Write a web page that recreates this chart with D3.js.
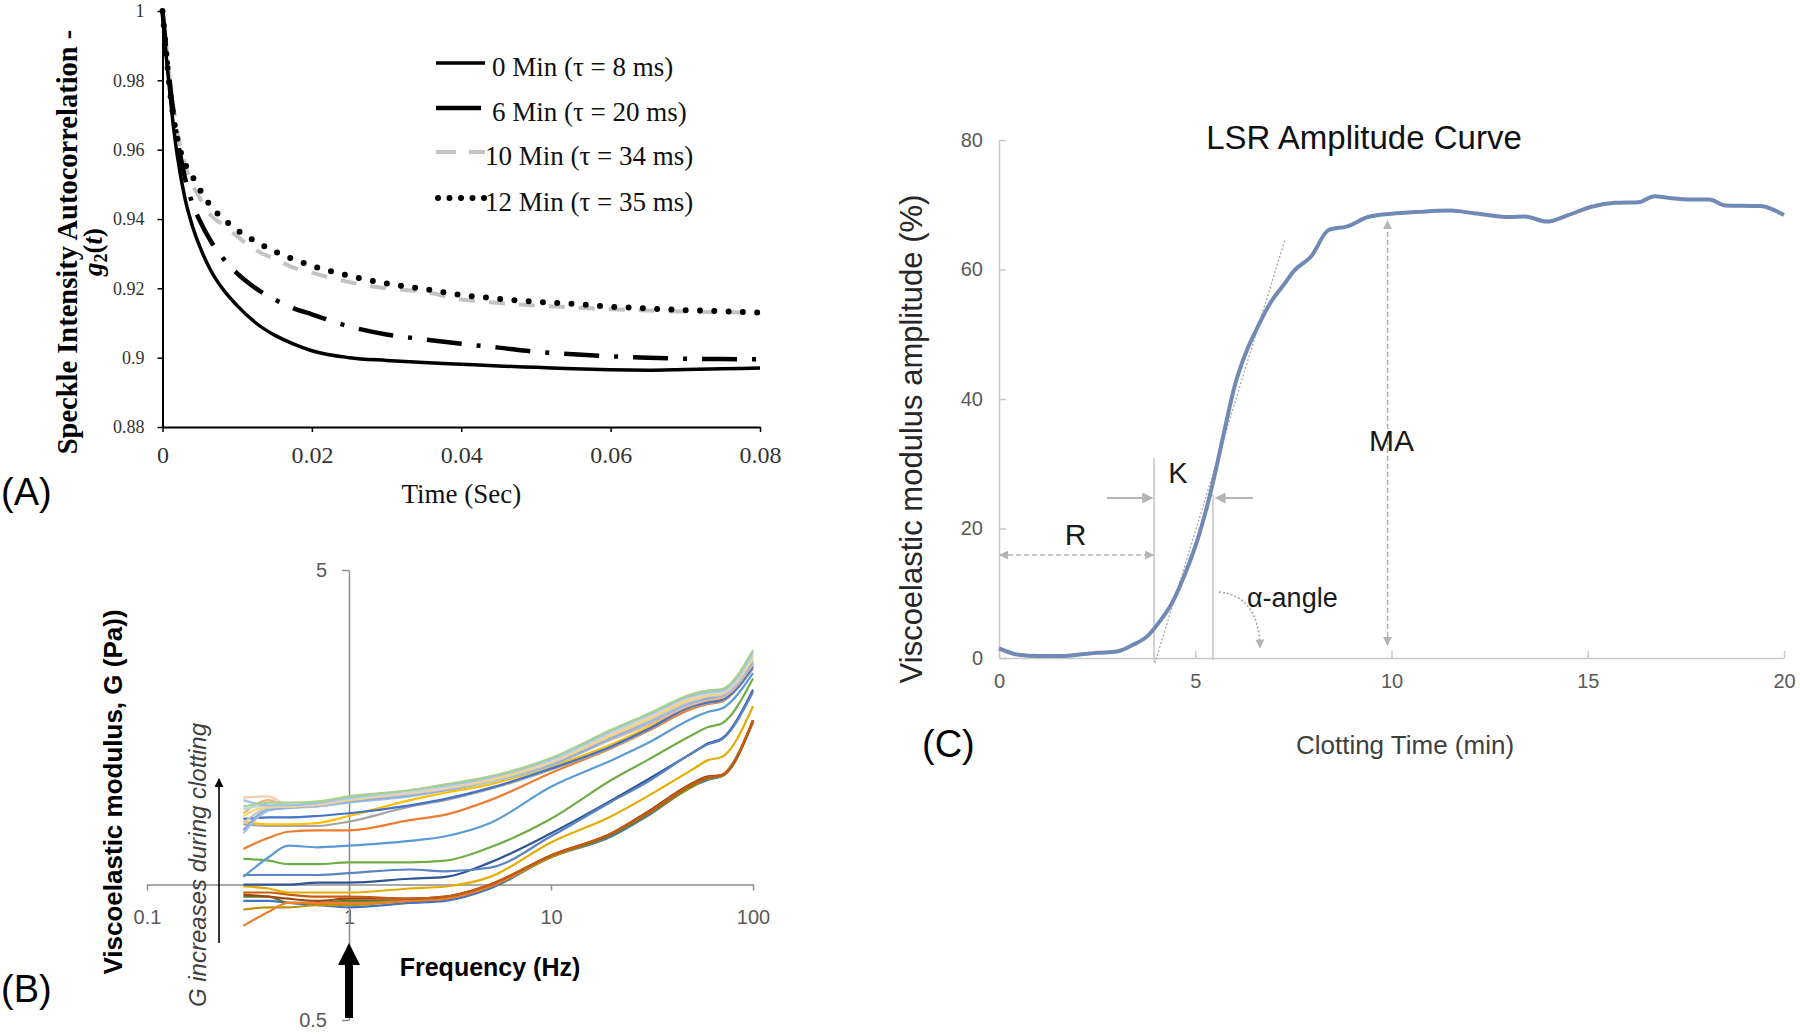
<!DOCTYPE html>
<html><head><meta charset="utf-8">
<script src="https://cdn.jsdelivr.net/npm/d3@7"></script>
<style>html,body{margin:0;padding:0;background:#fff}svg{display:block}</style>
</head><body>
<svg id="chart" width="1800" height="1034"></svg>
<script>
// ================= DATA =================
// Panel A : speckle intensity autocorrelation g2(t)
const timeA = [0, 0.0005, 0.001, 0.0015, 0.002, 0.003, 0.004, 0.005, 0.0065, 0.008, 0.01, 0.0125, 0.015, 0.0175, 0.02, 0.025, 0.03, 0.035, 0.04, 0.045, 0.05, 0.055, 0.06, 0.065, 0.07, 0.075, 0.08];
const g2_0min  = [1.0, 0.987, 0.976, 0.966, 0.958, 0.946, 0.938, 0.932, 0.925, 0.920, 0.915, 0.910, 0.9065, 0.904, 0.902, 0.900, 0.8992, 0.8986, 0.8981, 0.8976, 0.8972, 0.8968, 0.8965, 0.8964, 0.8966, 0.8968, 0.897];
const g2_6min  = [1.0, 0.989, 0.979, 0.970, 0.963, 0.952, 0.9445, 0.9395, 0.9335, 0.929, 0.9243, 0.920, 0.9168, 0.9143, 0.9125, 0.909, 0.9067, 0.9053, 0.904, 0.9029, 0.9017, 0.901, 0.9004, 0.900, 0.8997, 0.8996, 0.8995];
const g2_10min = [1.0, 0.990, 0.980, 0.972, 0.965, 0.956, 0.950, 0.946, 0.941, 0.9385, 0.935, 0.931, 0.9285, 0.926, 0.9245, 0.9218, 0.920, 0.919, 0.9168, 0.9158, 0.915, 0.9145, 0.914, 0.9136, 0.9133, 0.9131, 0.913];
const g2_12min = [1.0, 0.988, 0.977, 0.969, 0.963, 0.956, 0.9523, 0.9485, 0.9436, 0.9403, 0.9368, 0.9335, 0.9307, 0.9284, 0.9265, 0.9236, 0.9214, 0.9198, 0.9181, 0.917, 0.9161, 0.9155, 0.9147, 0.9142, 0.9137, 0.9134, 0.913];
const labelsA = ["0 Min (τ = 8 ms)", "6 Min (τ = 20 ms)", "10 Min (τ = 34 ms)", "12 Min (τ = 35 ms)"];
const xTicksA = [0, 0.02, 0.04, 0.06, 0.08];
const yTicksA = [0.88, 0.9, 0.92, 0.94, 0.96, 0.98, 1];

// Panel B : viscoelastic modulus G (Pa) vs frequency (Hz)
const freqB = [0.3, 0.4, 0.5, 0.7, 1, 2, 3, 5, 10, 20, 30, 50, 60, 70, 100];
const gBB1 = [0.96, 0.96, 0.95, 0.94, 0.94, 0.93, 0.94, 1.00, 1.16, 1.30, 1.44, 1.67, 1.73, 1.75, 2.32];
const gBB2 = [0.94, 0.94, 0.91, 0.91, 0.92, 0.92, 0.93, 0.99, 1.16, 1.29, 1.43, 1.66, 1.72, 1.75, 2.31];
const gBB3 = [0.88, 0.89, 0.89, 0.90, 0.90, 0.92, 0.93, 0.99, 1.15, 1.29, 1.43, 1.65, 1.72, 1.74, 2.30];
const gBB4 = [0.81, 0.87, 0.91, 0.91, 0.91, 0.92, 0.93, 0.99, 1.16, 1.30, 1.44, 1.67, 1.73, 1.75, 2.31];
const gBB5 = [0.92, 0.92, 0.91, 0.90, 0.89, 0.91, 0.92, 0.98, 1.15, 1.28, 1.42, 1.65, 1.71, 1.74, 2.29];
const gBB6 = [0.95, 0.94, 0.93, 0.92, 0.93, 0.93, 0.94, 1.00, 1.16, 1.30, 1.45, 1.68, 1.74, 1.75, 2.32];
const gGL  = [0.99, 0.98, 0.96, 0.96, 0.96, 0.98, 0.99, 1.04, 1.24, 1.42, 1.57, 1.80, 1.89, 1.92, 2.49];
const gDB  = [1.00, 1.00, 1.00, 1.01, 1.01, 1.03, 1.04, 1.12, 1.30, 1.54, 1.71, 1.96, 2.06, 2.11, 2.71];
const gBW  = [1.05, 1.05, 1.05, 1.05, 1.06, 1.08, 1.07, 1.09, 1.28, 1.53, 1.69, 1.96, 2.05, 2.10, 2.68];
const gGR1 = [1.14, 1.13, 1.11, 1.11, 1.12, 1.12, 1.13, 1.21, 1.40, 1.71, 1.89, 2.15, 2.24, 2.28, 2.87];
const gL1  = [1.04, 1.15, 1.22, 1.21, 1.22, 1.25, 1.28, 1.37, 1.65, 1.89, 2.06, 2.34, 2.42, 2.46, 2.95];
const gO1  = [1.20, 1.27, 1.31, 1.32, 1.32, 1.39, 1.43, 1.54, 1.77, 2.01, 2.19, 2.46, 2.52, 2.55, 3.09];
const gG1  = [1.36, 1.35, 1.35, 1.35, 1.38, 1.49, 1.54, 1.63, 1.80, 2.02, 2.20, 2.48, 2.53, 2.56, 3.02];
const gY1  = [1.38, 1.36, 1.36, 1.37, 1.42, 1.54, 1.60, 1.67, 1.83, 2.05, 2.23, 2.49, 2.55, 2.58, 3.06];
const gB1  = [1.40, 1.41, 1.41, 1.42, 1.44, 1.50, 1.55, 1.64, 1.81, 2.03, 2.21, 2.49, 2.54, 2.57, 3.05];
const gU9  = [1.44, 1.54, 1.49, 1.50, 1.53, 1.58, 1.63, 1.70, 1.85, 2.10, 2.26, 2.51, 2.57, 2.60, 3.09];
const gU8  = [1.30, 1.46, 1.48, 1.49, 1.52, 1.57, 1.62, 1.69, 1.84, 2.11, 2.28, 2.53, 2.59, 2.62, 3.11];
const gU7  = [1.32, 1.47, 1.48, 1.50, 1.53, 1.58, 1.62, 1.70, 1.85, 2.12, 2.30, 2.55, 2.60, 2.63, 3.14];
const gU6  = [1.37, 1.48, 1.49, 1.50, 1.54, 1.59, 1.63, 1.70, 1.86, 2.14, 2.31, 2.56, 2.62, 2.64, 3.17];
const gU5  = [1.42, 1.49, 1.49, 1.51, 1.54, 1.60, 1.64, 1.71, 1.87, 2.15, 2.33, 2.58, 2.63, 2.66, 3.19];
const gU4  = [1.56, 1.57, 1.50, 1.51, 1.55, 1.60, 1.64, 1.72, 1.88, 2.17, 2.35, 2.60, 2.65, 2.67, 3.22];
const gU3  = [1.47, 1.50, 1.50, 1.52, 1.55, 1.61, 1.65, 1.73, 1.89, 2.18, 2.36, 2.62, 2.66, 2.68, 3.25];
const gU2  = [1.54, 1.50, 1.50, 1.52, 1.56, 1.62, 1.66, 1.73, 1.90, 2.20, 2.38, 2.63, 2.68, 2.70, 3.29];
const gU1  = [1.49, 1.52, 1.52, 1.53, 1.57, 1.62, 1.67, 1.74, 1.91, 2.21, 2.39, 2.65, 2.70, 2.72, 3.32];
const xTicksB = [0.1, 1, 10, 100];
const yTicksB = [0.5, 5];

// Panel C : LSR amplitude curve
const timeC = [0, 0.5, 1, 1.5, 2, 2.5, 3, 3.4, 3.8, 4.1, 4.4, 4.7, 5.1, 5.4, 5.7, 6.0, 6.3, 6.55, 6.9, 7.3, 7.5, 7.95, 8.4, 8.9, 9.4, 10, 10.7, 11.5, 12.1, 13, 13.4, 13.95, 14.5, 15.1, 15.7, 16.3, 16.7, 17, 17.6, 18.1, 18.5, 19.4, 20];
const ampC  = [1.5, 0.5, 0.3, 0.3, 0.5, 0.8, 1.0, 2.0, 3.5, 5.7, 8.4, 12.4, 19.1, 25.8, 33.9, 41.9, 47.3, 50.6, 54.7, 58.0, 59.7, 62.0, 66.1, 66.7, 68.1, 68.6, 68.9, 69.1, 68.7, 68.1, 68.2, 67.4, 68.4, 69.7, 70.3, 70.4, 71.3, 71.1, 70.8, 70.8, 69.9, 69.8, 68.4];
const xTicksC = [0, 5, 10, 15, 20];
const yTicksC = [0, 20, 40, 60, 80];

// ================= DRAWING =================
const svg = d3.select("#chart");
const serif = "'Liberation Serif','Times New Roman',serif";
const sans = "'Liberation Sans',Arial,sans-serif";

const defs = svg.append("defs");
function marker(id, color, w, h) {
  defs.append("marker").attr("id", id).attr("viewBox", "0 0 10 10")
    .attr("refX", 9).attr("refY", 5).attr("markerWidth", w).attr("markerHeight", h)
    .attr("markerUnits", "userSpaceOnUse").attr("orient", "auto-start-reverse")
    .append("path").attr("d", "M0,0 L10,5 L0,10 z").attr("fill", color);
}
marker("gArr", "#B4B4B4", 12, 11);
marker("gArrS", "#B4B4B4", 10, 9);
marker("kArr", "#000", 12, 9);

// ---------- Panel A ----------
const xA = d3.scaleLinear().domain([0, 0.08]).range([162.5, 760]);
const yA = d3.scaleLinear().domain([0.88, 1]).range([427, 11]);
const gA = svg.append("g");

const axAy = gA.append("g").attr("transform", `translate(${xA(0)},0)`)
  .call(d3.axisLeft(yA).tickValues(yTicksA).tickSize(5).tickSizeOuter(0).tickPadding(13)
    .tickFormat(d => String(+d.toFixed(2))));
const axAx = gA.append("g").attr("transform", `translate(0,${yA(0.88)})`)
  .call(d3.axisBottom(xA).tickValues(xTicksA).tickSize(5).tickSizeOuter(0).tickPadding(14)
    .tickFormat(d => String(+d.toFixed(2))));
[axAy, axAx].forEach(ax => {
  ax.select(".domain").attr("stroke", "#000").attr("stroke-width", 2);
  ax.selectAll(".tick line").attr("stroke", "#000").attr("stroke-width", 1.5);
  ax.selectAll("text").attr("font-family", serif).attr("fill", "#333");
});
axAy.selectAll("text").attr("font-size", 18);
axAx.selectAll("text").attr("font-size", 24);

const lineA = vals => d3.line().curve(d3.curveMonotoneX)
  .x((d, i) => xA(timeA[i])).y(d => yA(d))(vals);

const stylesA = [
  { vals: g2_10min, stroke: "#C3C3C3", width: 4, dash: "16 14", cap: "butt" },
  { vals: g2_12min, stroke: "#000", width: 6, dash: "0 14.3", cap: "round" },
  { vals: g2_6min, stroke: "#000", width: 4.5, dash: "35 15 4 15", cap: "butt" },
  { vals: g2_0min, stroke: "#000", width: 3.5, dash: null, cap: "butt" }
];
stylesA.forEach(s => {
  gA.append("path").attr("d", lineA(s.vals)).attr("fill", "none")
    .attr("stroke", s.stroke).attr("stroke-width", s.width)
    .attr("stroke-dasharray", s.dash).attr("stroke-linecap", s.cap);
});

// legend A
const legY = [63, 108, 152, 198];
const legendSw = [
  { stroke: "#000", width: 3.5, dash: null, cap: "butt" },
  { stroke: "#000", width: 4.5, dash: null, cap: "butt", x2: 481 },
  { stroke: "#C3C3C3", width: 4, dash: "20 13", cap: "butt" },
  { stroke: "#000", width: 6, dash: "0 11.5", cap: "round", x1: 438 }
];
labelsA.forEach((lab, i) => {
  const s = legendSw[i];
  gA.append("line").attr("x1", s.x1 || 436).attr("x2", s.x2 || 485)
    .attr("y1", legY[i]).attr("y2", legY[i])
    .attr("stroke", s.stroke).attr("stroke-width", s.width)
    .attr("stroke-dasharray", s.dash).attr("stroke-linecap", s.cap);
  gA.append("text").attr("x", i < 2 ? 492 : 485).attr("y", legY[i] + 13)
    .attr("font-family", serif).attr("font-size", 27).attr("fill", "#111").text(lab);
});

// axis titles A
gA.append("text").attr("transform", "translate(77,242) rotate(-90)")
  .attr("text-anchor", "middle").attr("font-family", serif).attr("font-weight", "bold")
  .attr("font-size", 28.5).text("Speckle Intensity Autocorrelation -");
const g2t = gA.append("text").attr("transform", "translate(102,252) rotate(-90)")
  .attr("text-anchor", "middle").attr("font-family", serif).attr("font-weight", "bold")
  .attr("font-size", 27);
g2t.append("tspan").attr("font-style", "italic").text("g");
g2t.append("tspan").attr("font-size", 18).attr("dy", 5).text("2");
g2t.append("tspan").attr("dy", -5).text("(");
g2t.append("tspan").attr("font-style", "italic").text("t");
g2t.append("tspan").text(")");
gA.append("text").attr("x", xA(0.04)).attr("y", 503).attr("text-anchor", "middle")
  .attr("font-family", serif).attr("font-size", 27).attr("fill", "#111").text("Time (Sec)");
svg.append("text").attr("x", 1).attr("y", 505).attr("font-family", sans)
  .attr("font-size", 38).text("(A)");

// ---------- Panel B ----------
const xB = d3.scaleLog().domain([0.1, 100]).range([147, 753]);
const yB = d3.scaleLog().domain([0.5, 5]).range([1020, 570]);
const gB = svg.append("g");

const axBx = gB.append("g").attr("transform", `translate(0,${yB(1)})`)
  .call(d3.axisBottom(xB).tickValues(xTicksB).tickSize(6).tickSizeOuter(0).tickPadding(19)
    .tickFormat(d => String(d)));
const axBy = gB.append("g").attr("transform", `translate(${xB(1)},0)`)
  .call(d3.axisLeft(yB).tickValues(yTicksB).tickSize(7).tickSizeOuter(0).tickPadding(15)
    .tickFormat(d => String(d)));
[axBx, axBy].forEach(ax => {
  ax.select(".domain").attr("stroke", "#8C8C8C").attr("stroke-width", 1.5);
  ax.selectAll(".tick line").attr("stroke", "#8C8C8C").attr("stroke-width", 1.5);
  ax.selectAll("text").attr("font-family", sans).attr("font-size", 20).attr("fill", "#595959");
});

const seriesB = [
  { v: gBB5, c: "#4472C4" }, { v: gBB3, c: "#BF9000" }, { v: gBB2, c: "#548235" },
  { v: gBB4, c: "#ED7D31" }, { v: gBB6, c: "#9E480E" }, { v: gBB1, c: "#C55A11" },
  { v: gGL, c: "#E5AC00" }, { v: gDB, c: "#2F5597" }, { v: gBW, c: "#5B84C4" },
  { v: gGR1, c: "#70AD47" }, { v: gL1, c: "#5B9BD5" }, { v: gO1, c: "#ED7D31" },
  { v: gG1, c: "#A5A5A5" }, { v: gY1, c: "#FFC000" }, { v: gB1, c: "#4472C4" },
  { v: gU9, c: "#F4B183" }, { v: gU8, c: "#9DC3E6" }, { v: gU7, c: "#8FAADC" },
  { v: gU6, c: "#C9C9C9" }, { v: gU5, c: "#FFD966" }, { v: gU4, c: "#F8CBAD" },
  { v: gU3, c: "#BDD7EE" }, { v: gU2, c: "#9DC3E6" }, { v: gU1, c: "#A9D18E" }
];
const lineB = d3.line().curve(d3.curveMonotoneX).x((d, i) => xB(freqB[i])).y(d => yB(d));
seriesB.forEach(s => {
  gB.append("path").attr("d", lineB(s.v)).attr("fill", "none")
    .attr("stroke", s.c).attr("stroke-width", 2.2).attr("stroke-linejoin", "round");
});

gB.append("text").attr("transform", "translate(122,792) rotate(-90)").attr("text-anchor", "middle")
  .attr("font-family", sans).attr("font-weight", "bold").attr("font-size", 26)
  .text("Viscoelastic modulus, G (Pa))");
gB.append("text").attr("transform", "translate(206,865) rotate(-90)").attr("text-anchor", "middle")
  .attr("font-family", sans).attr("font-style", "italic").attr("font-size", 24).attr("fill", "#404040")
  .text("G increases during clotting");
gB.append("line").attr("x1", 219).attr("x2", 219).attr("y1", 943).attr("y2", 779)
  .attr("stroke", "#000").attr("stroke-width", 1.6).attr("marker-end", "url(#kArr)");
gB.append("text").attr("x", 490).attr("y", 976).attr("text-anchor", "middle")
  .attr("font-family", sans).attr("font-weight", "bold").attr("font-size", 25).text("Frequency (Hz)");
// thick arrow
gB.append("path").attr("d", `M${xB(1) - 4},1018 V965 H${xB(1) - 11} L${xB(1)},943 L${xB(1) + 11},965 H${xB(1) + 4} V1018 Z`)
  .attr("fill", "#000");
svg.append("text").attr("x", 1).attr("y", 1002).attr("font-family", sans)
  .attr("font-size", 38).text("(B)");

// ---------- Panel C ----------
const xC = d3.scaleLinear().domain([0, 20]).range([999, 1784]);
const yC = d3.scaleLinear().domain([0, 80]).range([658, 140]);
const gC = svg.append("g");
const axCx = gC.append("g").attr("transform", `translate(0,${yC(0)})`)
  .call(d3.axisBottom(xC).tickValues(xTicksC).tickSize(-7).tickSizeOuter(0).tickPadding(16));
const axCy = gC.append("g").attr("transform", `translate(${xC(0)},0)`)
  .call(d3.axisLeft(yC).tickValues(yTicksC).tickSize(-7).tickSizeOuter(0).tickPadding(16));
[axCx, axCy].forEach(ax => {
  ax.select(".domain").attr("stroke", "#C8C8C8").attr("stroke-width", 1.5);
  ax.selectAll(".tick line").attr("stroke", "#C8C8C8").attr("stroke-width", 1.5);
  ax.selectAll("text").attr("font-family", sans).attr("font-size", 20).attr("fill", "#595959");
});

const greyA = "#B4B4B4";
// R dashed double arrow
gC.append("line").attr("x1", xC(0) + 1).attr("x2", xC(3.93)).attr("y1", yC(15.9)).attr("y2", yC(15.9))
  .attr("stroke", greyA).attr("stroke-width", 1.6).attr("stroke-dasharray", "5 3")
  .attr("marker-start", "url(#gArrS)").attr("marker-end", "url(#gArrS)");
// K verticals
gC.append("line").attr("x1", xC(3.95)).attr("x2", xC(3.95)).attr("y1", yC(30.9)).attr("y2", yC(-0.6))
  .attr("stroke", "#C8C8C8").attr("stroke-width", 1.6);
gC.append("line").attr("x1", xC(5.45)).attr("x2", xC(5.45)).attr("y1", yC(25.3)).attr("y2", yC(-0.3))
  .attr("stroke", "#C8C8C8").attr("stroke-width", 1.6);
// K arrows
gC.append("line").attr("x1", xC(2.75)).attr("x2", xC(3.9)).attr("y1", yC(24.7)).attr("y2", yC(24.7))
  .attr("stroke", greyA).attr("stroke-width", 2).attr("marker-end", "url(#gArr)");
gC.append("line").attr("x1", xC(6.47)).attr("x2", xC(5.52)).attr("y1", yC(24.7)).attr("y2", yC(24.7))
  .attr("stroke", greyA).attr("stroke-width", 2).attr("marker-end", "url(#gArr)");
// tangent
gC.append("line").attr("x1", xC(3.97)).attr("y1", yC(-0.8)).attr("x2", xC(7.29)).attr("y2", yC(64.7))
  .attr("stroke", "#A6A6A6").attr("stroke-width", 1.3).attr("stroke-dasharray", "2 2");
// alpha arc
const arc = d3.path();
arc.moveTo(xC(5.6), yC(10.2));
arc.quadraticCurveTo(xC(6.62), yC(9.6), xC(6.65), yC(1.6));
gC.append("path").attr("d", arc.toString()).attr("fill", "none").attr("stroke", "#A6A6A6")
  .attr("stroke-width", 1.6).attr("stroke-dasharray", "2 2").attr("marker-end", "url(#gArrS)");
// MA arrow
gC.append("line").attr("x1", xC(9.9)).attr("x2", xC(9.9)).attr("y1", yC(2)).attr("y2", yC(67.5))
  .attr("stroke", greyA).attr("stroke-width", 1.6).attr("stroke-dasharray", "5 3")
  .attr("marker-start", "url(#gArrS)").attr("marker-end", "url(#gArrS)");

// curve
gC.append("path")
  .attr("d", d3.line().curve(d3.curveMonotoneX).x((d, i) => xC(timeC[i])).y(d => yC(d))(ampC))
  .attr("fill", "none").attr("stroke", "#7189B5").attr("stroke-width", 4).attr("stroke-linejoin", "round");

// labels C
const lab = (x, y, t, fs) => gC.append("text").attr("x", x).attr("y", y).attr("text-anchor", "middle")
  .attr("font-family", sans).attr("font-size", fs).attr("fill", "#1a1a1a").text(t);
lab(xC(1.95), 545, "R", 30);
lab(xC(4.56), 483, "K", 29);
lab(xC(10.0), 451, "MA", 30);
gC.append("text").attr("x", 1247).attr("y", 607).attr("font-family", sans).attr("font-size", 27)
  .attr("fill", "#1a1a1a").text("α-angle");
gC.append("text").attr("x", 1364).attr("y", 149).attr("text-anchor", "middle").attr("font-family", sans)
  .attr("font-size", 33).attr("fill", "#111").text("LSR Amplitude Curve");
gC.append("text").attr("transform", "translate(922,439) rotate(-90)").attr("text-anchor", "middle")
  .attr("font-family", sans).attr("font-size", 31).attr("fill", "#262626")
  .text("Viscoelastic modulus amplitude (%)");
gC.append("text").attr("x", 1405).attr("y", 754).attr("text-anchor", "middle").attr("font-family", sans)
  .attr("font-size", 26).attr("fill", "#404040").text("Clotting Time (min)");
svg.append("text").attr("x", 922).attr("y", 757).attr("font-family", sans)
  .attr("font-size", 38).text("(C)");
</script>
</body></html>
